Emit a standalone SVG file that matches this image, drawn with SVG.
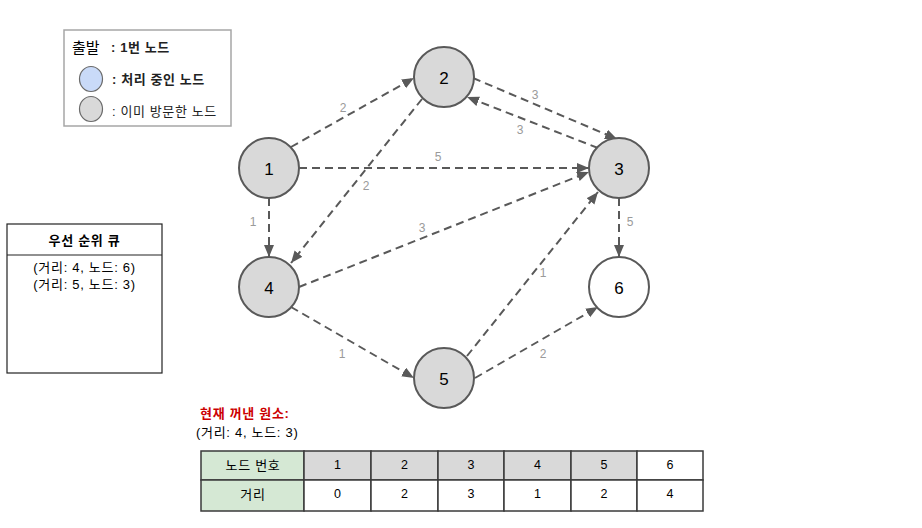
<svg xmlns="http://www.w3.org/2000/svg" width="922" height="528" viewBox="0 0 922 528">
<style>
text{font-family:"Liberation Sans","Noto Sans CJK KR",sans-serif;fill:#000}
.node{fill:#d9d9d9;stroke:#595959;stroke-width:2}
.node6{fill:#ffffff;stroke:#595959;stroke-width:2}
.nl{font-size:17px;text-anchor:middle;dominant-baseline:central}
.edge{fill:none;stroke:#595959;stroke-width:2;stroke-dasharray:8 5;marker-end:url(#arr)}
.el{font-size:12px;fill:#9a9a9a;text-anchor:middle;dominant-baseline:central}
.cell{stroke:#3a3a3a;stroke-width:1.5}
.ct{font-size:12.5px;text-anchor:middle;dominant-baseline:central}
.kt{font-size:13px;letter-spacing:0.7px;text-anchor:middle;dominant-baseline:central}
.lt{font-size:13px;letter-spacing:0.6px;dominant-baseline:central;fill:#222}
</style>
<defs>
<marker id="arr" markerUnits="userSpaceOnUse" markerWidth="13" markerHeight="11" refX="12" refY="5" orient="auto" viewBox="0 0 13 11">
<path d="M0,0 L12,5 L0,10 z" fill="#595959"/>
</marker>
</defs>
<rect width="922" height="528" fill="#ffffff"/>

<g id="legend">
<rect x="64" y="30" width="167" height="96" fill="#ffffff" stroke="#a6a6a6" stroke-width="1.5"/>
<text x="72" y="47" font-size="15" dominant-baseline="central" fill="#222">출발</text>
<text x="111" y="47" class="lt" font-weight="bold">: 1번 노드</text>
<ellipse cx="91" cy="79" rx="11.5" ry="12.5" fill="#c9daf8" stroke="#6a6a6a" stroke-width="1.2"/>
<text x="112" y="79" class="lt" font-weight="bold">: 처리 중인 노드</text>
<ellipse cx="91" cy="109" rx="11.5" ry="12.5" fill="#d9d9d9" stroke="#6a6a6a" stroke-width="1.2"/>
<text x="112" y="111" class="lt">: 이미 방문한 노드</text>
</g>

<g id="queue">
<rect x="7" y="224" width="155" height="149" fill="#ffffff" stroke="#222" stroke-width="1.2"/>
<line x1="7" y1="255" x2="162" y2="255" stroke="#222" stroke-width="1.2"/>
<text x="84.5" y="240" class="kt" font-weight="bold" font-size="13.5" letter-spacing="1">우선 순위 큐</text>
<text x="84.5" y="267" class="kt">(거리: 4, 노드: 6)</text>
<text x="84.5" y="284" class="kt">(거리: 5, 노드: 3)</text>
</g>

<g id="connectors">
<path class="edge" d="M291,147 L414,78"/>
<path class="edge" d="M299,168 L589,168"/>
<path class="edge" d="M473,78 L617,139"/>
<path class="edge" d="M598,148 L467,97"/>
<path class="edge" d="M422,99 L291,263"/>
<path class="edge" d="M269,198 L269,257"/>
<path class="edge" d="M299,287 L589,172"/>
<path class="edge" d="M467,356 L598,192"/>
<path class="edge" d="M619,198 L619,257"/>
<path class="edge" d="M291,307 L414,378"/>
<path class="edge" d="M475,378 L598,307"/>
<text class="el" x="343" y="108">2</text>
<text class="el" x="438" y="157">5</text>
<text class="el" x="535" y="95">3</text>
<text class="el" x="520" y="130">3</text>
<text class="el" x="366" y="186">2</text>
<text class="el" x="253" y="222">1</text>
<text class="el" x="422" y="228">3</text>
<text class="el" x="543" y="273">1</text>
<text class="el" x="630" y="222">5</text>
<text class="el" x="342" y="354">1</text>
<text class="el" x="543" y="354">2</text>
</g>

<g id="node1"><circle class="node" cx="269" cy="168" r="30"/><text class="nl" x="269" y="169">1</text></g>
<g id="node2"><circle class="node" cx="444" cy="77" r="30"/><text class="nl" x="444" y="78">2</text></g>
<g id="node3"><circle class="node" cx="619" cy="168" r="30"/><text class="nl" x="619" y="169">3</text></g>
<g id="node4"><circle class="node" cx="269" cy="287" r="30"/><text class="nl" x="269" y="288">4</text></g>
<g id="node5"><circle class="node" cx="444" cy="378" r="30"/><text class="nl" x="444" y="379">5</text></g>
<g id="node6"><circle class="node6" cx="619" cy="287" r="30"/><text class="nl" x="619" y="288">6</text></g>

<g id="current">
<text x="200" y="413" font-size="13" letter-spacing="0.7" font-weight="bold" dominant-baseline="central" style="fill:#cc0000">현재 꺼낸 원소:</text>
<text x="196" y="432" font-size="13" letter-spacing="0.7" dominant-baseline="central" fill="#222">(거리: 4, 노드: 3)</text>
</g>

<g id="table">
<rect class="cell" x="201" y="451" width="103" height="29" fill="#d5e8d4"/>
<rect class="cell" x="201" y="480" width="103" height="31" fill="#d5e8d4"/>
<rect class="cell" x="304" y="451" width="67" height="29" fill="#d9d9d9"/>
<rect class="cell" x="371" y="451" width="67" height="29" fill="#d9d9d9"/>
<rect class="cell" x="438" y="451" width="66" height="29" fill="#d9d9d9"/>
<rect class="cell" x="504" y="451" width="67" height="29" fill="#d9d9d9"/>
<rect class="cell" x="571" y="451" width="66" height="29" fill="#d9d9d9"/>
<rect class="cell" x="637" y="451" width="66" height="29" fill="#ffffff"/>
<rect class="cell" x="304" y="480" width="67" height="31" fill="#ffffff"/>
<rect class="cell" x="371" y="480" width="67" height="31" fill="#ffffff"/>
<rect class="cell" x="438" y="480" width="66" height="31" fill="#ffffff"/>
<rect class="cell" x="504" y="480" width="67" height="31" fill="#ffffff"/>
<rect class="cell" x="571" y="480" width="66" height="31" fill="#ffffff"/>
<rect class="cell" x="637" y="480" width="66" height="31" fill="#ffffff"/>
<text class="kt" x="253" y="465" letter-spacing="1">노드 번호</text>
<text class="kt" x="253" y="494" letter-spacing="1">거리</text>
<text class="ct" x="337.5" y="465">1</text>
<text class="ct" x="404.5" y="465">2</text>
<text class="ct" x="471" y="465">3</text>
<text class="ct" x="537.5" y="465">4</text>
<text class="ct" x="604" y="465">5</text>
<text class="ct" x="670" y="465">6</text>
<text class="ct" x="337.5" y="494">0</text>
<text class="ct" x="404.5" y="494">2</text>
<text class="ct" x="471" y="494">3</text>
<text class="ct" x="537.5" y="494">1</text>
<text class="ct" x="604" y="494">2</text>
<text class="ct" x="670" y="494">4</text>
</g>
</svg>
